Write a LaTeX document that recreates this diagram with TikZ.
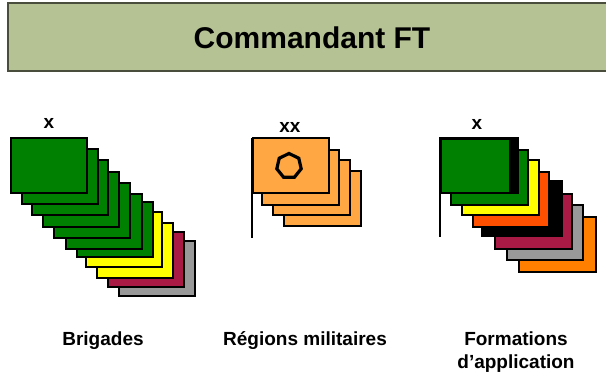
\documentclass[tikz,border=0pt]{standalone}
\usepackage{fontspec}
\setmainfont{Liberation Sans}
\usetikzlibrary{shapes.geometric}
\definecolor{hdr}{HTML}{B5C293}
\definecolor{fgreen}{HTML}{008000}
\definecolor{fyellow}{HTML}{FFFF00}
\definecolor{fcrimson}{HTML}{A91B45}
\definecolor{fgray}{HTML}{999999}
\definecolor{fpeach}{HTML}{FFA843}
\definecolor{fred}{HTML}{FF5000}
\definecolor{forange}{HTML}{FF8000}
\tikzset{
  flagbox/.style={draw=black, line width=2.5pt, line join=miter},
  staffline/.style={draw=black, line width=2.2pt},
  echelon/.style={font=\fontsize{19}{19}\selectfont\bfseries, inner sep=0pt},
  caption/.style={font=\fontsize{19}{23}\selectfont\bfseries, align=center, inner sep=0pt},
}
\newcommand{\myflag}[4]{\path[flagbox, fill=#4] (#1,#2) rectangle ++(#3,55);}
\begin{document}
\begin{tikzpicture}[x=1pt,y=-1pt]
\useasboundingbox (0,0) rectangle (606,376);
\clip (0,0) rectangle (606,376);
% header
\path[fill=hdr, draw=black!60!hdr, line width=1.3pt] (8,3) rectangle (612,71);
\node[font=\fontsize{30}{30}\selectfont\bfseries, inner sep=0pt] (title) at (312,38) {Commandant FT};

% Brigades (back to front)
\myflag{119}{241}{76}{fgray}
\myflag{108}{232}{76}{fcrimson}
\myflag{97}{223}{76}{fyellow}
\myflag{86}{212}{76}{fyellow}
\myflag{77}{202}{76}{fgreen}
\myflag{66}{194}{76}{fgreen}
\myflag{54}{183}{76}{fgreen}
\myflag{43}{172}{76}{fgreen}
\myflag{32}{160}{76}{fgreen}
\myflag{22}{149}{76}{fgreen}
\myflag{11}{138}{76}{fgreen}
\node[echelon] (xb) at (49,123) {x};

% Regions militaires
\myflag{284}{171}{77}{fpeach}
\myflag{273}{160}{77}{fpeach}
\myflag{262}{150}{77}{fpeach}
\myflag{253}{138}{76}{fpeach}
\coordinate (rtop) at (252,138);
\coordinate (rbot) at (252,238);
\draw[staffline] (rtop) -- (rbot);
\node[regular polygon, regular polygon sides=7, draw=black, line width=3.2pt, minimum size=25pt, inner sep=0pt] (hex) at (289,166) {};
\node[echelon] (xr) at (290,127) {xx};

% Formations d'application
\myflag{519}{217}{77}{forange}
\myflag{507}{205}{76}{fgray}
\myflag{495}{194}{77}{fcrimson}
\myflag{482}{181}{80}{black}
\myflag{473}{172}{76}{fred}
\myflag{462}{160}{77}{fyellow}
\myflag{451}{150}{77}{fgreen}
\myflag{440}{138}{78}{black}
\path[fill=fgreen] (442,140) rectangle (509,192);
\coordinate (ftop) at (440,138);
\coordinate (fbot) at (440,237);
\draw[staffline] (ftop) -- (fbot);
\node[echelon] (xf) at (477,124) {x};

% captions
\node[caption, anchor=base] (cb) at (103,345) {Brigades};
\node[caption, anchor=base] (cr) at (305,345) {Régions militaires};
\node[caption, anchor=base] (cf) at (516,368) {Formations\\d’application};
\end{tikzpicture}
\end{document}
